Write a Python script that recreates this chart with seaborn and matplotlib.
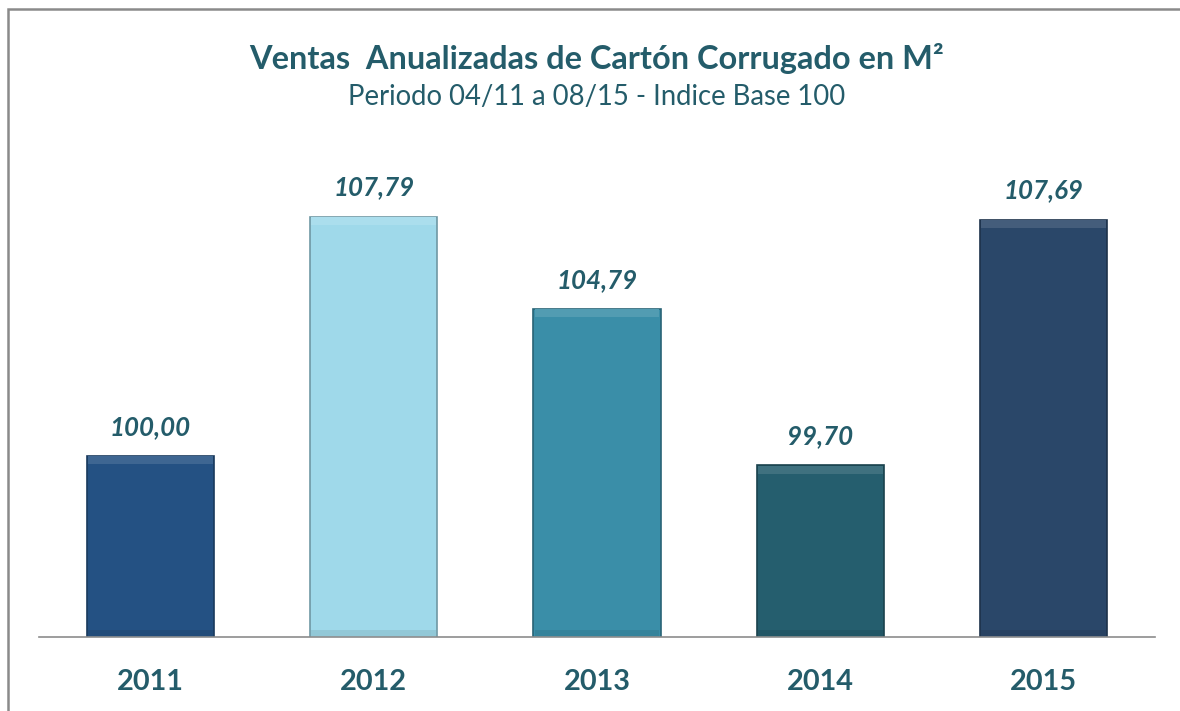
import matplotlib
matplotlib.use('Agg')
import matplotlib.pyplot as plt
from matplotlib.colors import to_rgb
from matplotlib.patches import Rectangle
import numpy as np
import pandas as pd
import seaborn as sns

# Chart data
years = ['2011', '2012', '2013', '2014', '2015']
index_values = [100.00, 107.79, 104.79, 99.70, 107.69]
bar_colors = ['#245183', '#9fd9ea', '#3a8ea8', '#255e6e', '#2a4769']

title = 'Ventas  Anualizadas de Cartón Corrugado en M²'
subtitle = 'Periodo 04/11 a 08/15 - Indice Base 100'

text_color = '#245c6a'
W, H = 1180, 711


def mix(color, other, amount):
    c = np.array(to_rgb(color))
    o = np.array(to_rgb(other))
    return tuple(c * (1 - amount) + o * amount)


sns.set_theme(style='white')
plt.rcParams['font.family'] = ['Lato', 'DejaVu Sans']

df = pd.DataFrame({'year': years, 'value': index_values})

fig = plt.figure(figsize=(W / 100, H / 100), dpi=100, facecolor='white')

# Axes placed so the baseline sits where the reference has it
base_px, top_px = 637, 140
ax = fig.add_axes([39 / W, (H - base_px) / H, 1116 / W, (base_px - top_px) / H])

sns.barplot(data=df, x='year', y='value', hue='year', palette=bar_colors,
            legend=False, width=0.57, ax=ax, saturation=1, linewidth=1.2)

y_min = 94.1
ax.set_ylim(y_min, y_min + (base_px - top_px) / 30.7)
ax.set_xlim(-0.5, len(years) - 0.5)

# Give each bar a darker rim and a soft bevel highlight at the top
for patch, color in zip(ax.patches, bar_colors):
    patch.set_edgecolor(mix(color, 'black', 0.3))
    x, w = patch.get_x(), patch.get_width()
    top = patch.get_y() + patch.get_height()
    ax.add_patch(Rectangle((x + w * 0.01, top - 0.28), w * 0.98, 0.26,
                           facecolor=mix(color, 'white', 0.12),
                           edgecolor='none', zorder=patch.get_zorder() + 0.1))
    ax.add_patch(Rectangle((x + w * 0.01, y_min + 0.02), w * 0.98, 0.22,
                           facecolor=mix(color, 'black', 0.08),
                           edgecolor='none', zorder=patch.get_zorder() + 0.1))

# Value labels above the bars
for i, v in enumerate(index_values):
    ax.annotate(f'{v:.2f}'.replace('.', ','), (i, v), xytext=(0, 21),
                textcoords='offset points', ha='center', va='center',
                fontsize=18.6, fontweight='bold', fontstyle='italic',
                color=text_color)

ax.set_xlabel('')
ax.set_ylabel('')
ax.set_yticks([])
ax.tick_params(axis='x', length=0, pad=23)
for lbl in ax.get_xticklabels():
    lbl.set_fontsize(20.8)
    lbl.set_fontweight('bold')
    lbl.set_color(text_color)

for side in ['top', 'right', 'left']:
    ax.spines[side].set_visible(False)
ax.spines['bottom'].set_color('#8c8c8c')
ax.spines['bottom'].set_linewidth(1.2)

# Titles
fig.text(597 / W, 1 - 58 / H, title, ha='center', va='center',
         fontsize=23.4, fontweight='bold', color=text_color)
fig.text(597 / W, 1 - 97 / H, subtitle, ha='center', va='center',
         fontsize=19.8, color=text_color)

# Outer frame, cut off at the right and bottom like the reference
frame = Rectangle((8 / W, -0.05), 1.2, 1 - 9 / H + 0.05,
                  transform=fig.transFigure, fill=False,
                  edgecolor='#8a8a8a', linewidth=1.8, clip_on=False)
fig.patches.append(frame)

fig.savefig('out.png', dpi=100, facecolor='white')
